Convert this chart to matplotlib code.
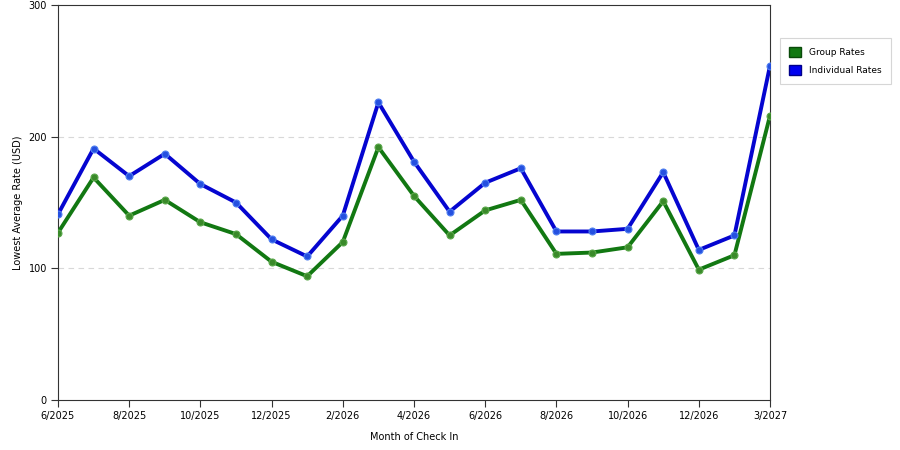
import matplotlib
matplotlib.use("Agg")
import matplotlib.pyplot as plt
from matplotlib.patches import Patch

months = ['6/2025', '7/2025', '8/2025', '9/2025', '10/2025', '11/2025', '12/2025',
          '1/2026', '2/2026', '3/2026', '4/2026', '5/2026', '6/2026', '7/2026',
          '8/2026', '9/2026', '10/2026', '11/2026', '12/2026', '1/2027', '3/2027']
individual = [141, 191, 170, 187, 164, 150, 122, 109, 140, 226, 181,
              143, 165, 176, 128, 128, 130, 173, 114, 125, 254]
group = [127, 169, 140, 152, 135, 126, 105, 94, 120, 192, 155,
         125, 144, 152, 111, 112, 116, 151, 99, 110, 216]

green = '#127812'
blue = '#0505d0'

fig = plt.figure(figsize=(9, 4.5), dpi=100)
ax = fig.add_axes([0.0644, 0.111, 0.7912, 0.878])

x = list(range(len(months)))
ax.plot(x, group, color=green, lw=2.8, marker='o', ms=5,
        mfc='#3a8a2a', mec='#5aa84a', mew=0.8, zorder=3)
ax.plot(x, individual, color=blue, lw=2.8, marker='o', ms=5,
        mfc='#2550e0', mec='#5080f0', mew=0.8, zorder=3)

ax.set_xlim(0, len(months) - 1)
ax.set_ylim(0, 300)
ax.set_yticks([0, 100, 200, 300])
ax.set_xticks(x[::2])
ax.set_xticklabels(months[::2])
ax.tick_params(labelsize=7, length=5, width=0.8, color='#333333', pad=3)
for y in [100, 200]:
    ax.axhline(y, color='#d8d8d8', lw=0.8, ls=(0, (5, 4)), zorder=1)
for s in ax.spines.values():
    s.set_color('#333333')
    s.set_linewidth(0.8)

ax.set_xlabel('Month of Check In', fontsize=7, labelpad=8)
ax.set_ylabel('Lowest Average Rate (USD)', fontsize=7, labelpad=4)

handles = [Patch(facecolor='#127812', edgecolor='#0a4a0a', label='Group Rates'),
           Patch(facecolor='#0000f0', edgecolor='#00008a', label='Individual Rates')]
leg = fig.legend(handles=handles, loc='upper left', bbox_to_anchor=(0.8667, 0.9156),
                 borderaxespad=0, fontsize=6.5, frameon=True, fancybox=False,
                 handlelength=1.3, handleheight=1.4, borderpad=1.0,
                 labelspacing=0.8, handletextpad=0.9)
leg.get_frame().set_edgecolor('#cccccc')
leg.get_frame().set_linewidth(0.8)

fig.savefig('out.png', dpi=100)
